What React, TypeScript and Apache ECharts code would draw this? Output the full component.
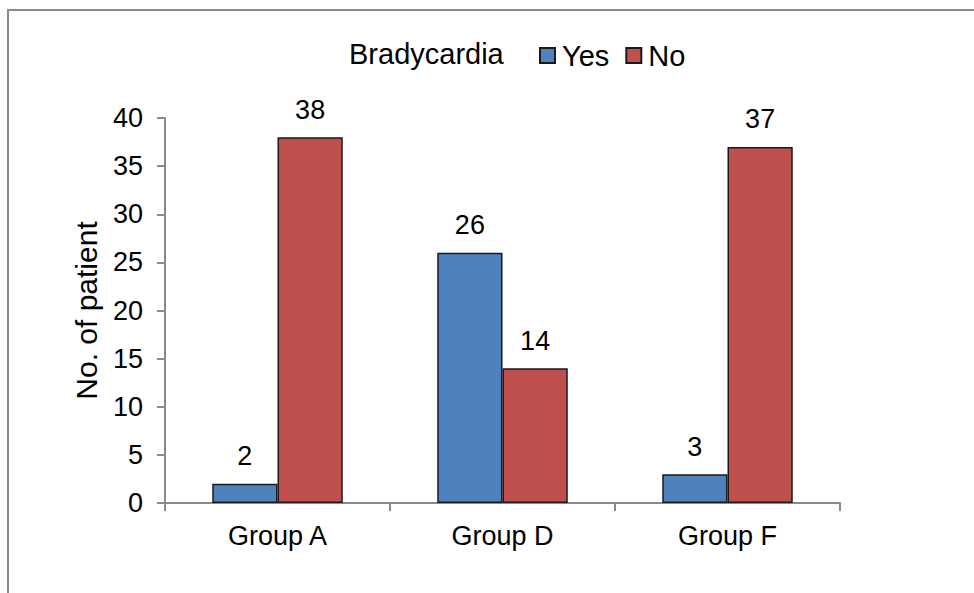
import React, { useEffect, useRef } from "react";
import * as echarts from "echarts";

const categories = ["Group A", "Group D", "Group F"];
const yesValues = [2, 26, 3];
const noValues = [38, 14, 37];
const legendTitle = "Bradycardia";
const yAxisName = "No. of patient";

const FONT = "'Liberation Sans', Arial, sans-serif";

export default function App() {
  const ref = useRef<HTMLDivElement>(null);
  useEffect(() => {
    const chart = echarts.init(ref.current!, null, { renderer: "svg" });
    const labelStyle = {
      show: true,
      position: "top" as const,
      distance: 14,
      color: "#000",
      fontSize: 27,
      fontFamily: FONT,
    };
    chart.setOption({
      animation: false,
      backgroundColor: "#fff",
      textStyle: { fontFamily: FONT },
      graphic: [
        {
          type: "rect",
          shape: { x: 8, y: 10, width: 1100, height: 1000 },
          style: { fill: "none", stroke: "#8a8a8a", lineWidth: 2 },
          silent: true,
        },
        {
          type: "text",
          left: 349,
          top: 39,
          style: { text: legendTitle, font: `29px ${FONT}`, fill: "#000" },
        },
      ],
      legend: {
        left: 534,
        top: 36,
        itemWidth: 15,
        itemHeight: 15,
        itemGap: 16,
        icon: "rect",
        textStyle: { fontSize: 29, color: "#000", fontFamily: FONT, padding: [0, 0, 0, 2] },
        data: ["Yes", "No"],
      },
      grid: { left: 165, top: 118, width: 675, bottom: 90 },
      xAxis: {
        type: "category",
        data: categories,
        axisLine: { lineStyle: { color: "#8a8a8a", width: 2 } },
        axisTick: { show: true, length: 8, lineStyle: { color: "#8a8a8a", width: 2 } },
        axisLabel: { color: "#000", fontSize: 27, fontFamily: FONT, margin: 19 },
      },
      yAxis: {
        type: "value",
        min: 0,
        max: 40,
        interval: 5,
        name: yAxisName,
        nameLocation: "middle",
        nameRotate: 90,
        nameGap: 64,
        nameTextStyle: { color: "#000", fontSize: 30, fontFamily: FONT },
        axisLine: { show: true, lineStyle: { color: "#8a8a8a", width: 2 } },
        axisTick: { show: true, length: 8, lineStyle: { color: "#8a8a8a", width: 2 } },
        axisLabel: { color: "#000", fontSize: 27, fontFamily: FONT, margin: 22 },
        splitLine: { show: false },
      },
      series: [
        {
          name: "Yes",
          type: "bar",
          data: yesValues,
          barGap: "0%",
          barCategoryGap: "42%",
          itemStyle: { color: "#4F81BD", borderColor: "#1a1a1a", borderWidth: 1.5 },
          label: labelStyle,
        },
        {
          name: "No",
          type: "bar",
          data: noValues,
          barGap: "0%",
          barCategoryGap: "42%",
          itemStyle: { color: "#C0504D", borderColor: "#1a1a1a", borderWidth: 1.5 },
          label: labelStyle,
        },
      ],
    });
    return () => chart.dispose();
  }, []);
  return (
    <div
      ref={ref}
      style={{ position: "fixed", left: 0, top: 0, width: 974, height: 593 }}
    />
  );
}
